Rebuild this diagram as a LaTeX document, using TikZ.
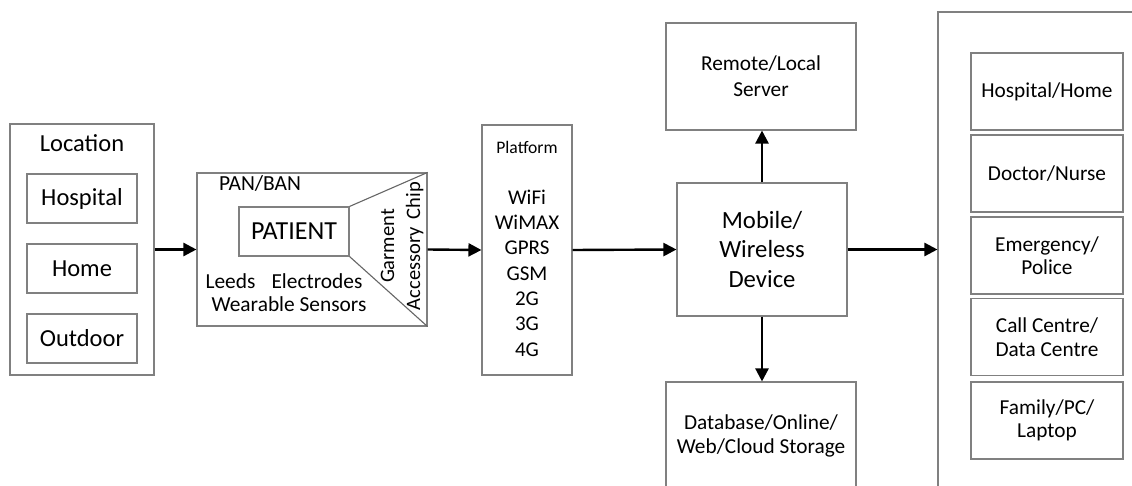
\documentclass[tikz,border=0pt]{standalone}
\usepackage{fontspec}
\setmainfont{Carlito}
\usetikzlibrary{arrows.meta}
\definecolor{boxline}{gray}{0.5}
\newcommand\fsz[2]{\fontsize{#1pt}{#2pt}\selectfont}
\tikzset{
  box/.style={draw=boxline, line width=1.1pt, inner sep=0pt, align=center},
  txt/.style={inner sep=0pt, align=center},
  conn/.style={line width=2.4pt, -{Triangle[length=13pt,width=13pt]}},
  plain/.style={draw=boxline!80!black, line width=1.1pt},
}
\begin{document}
\begin{tikzpicture}[x=1pt,y=-1pt]
\clip (0,0) rectangle (1132,486);
\fill[white] (0,0) rectangle (1132,486);

% location group
\node[box, minimum width=144pt, minimum height=251pt] (loc) at (82,249.5) {};
\node[txt, font=\fsz{24.5}{29}] (loctitle) at (82,143) {Location};
\node[box, minimum width=110pt, minimum height=49pt, font=\fsz{24.5}{29}] (hosp) at (82,198.5) {Hospital};
\node[box, minimum width=110pt, minimum height=49pt, font=\fsz{24.5}{29}] (home) at (82,268.5) {Home};
\node[box, minimum width=110pt, minimum height=49pt, font=\fsz{24.5}{29}] (outd) at (82,338.5) {Outdoor};

% personal / body area network
\node[box, minimum width=230pt, minimum height=153pt] (pan) at (312,249.5) {};
\node[box, minimum width=110pt, minimum height=49pt, font=\fsz{26}{31}] (pat) at (294,231.5) {PATIENT};
\draw[plain] (pat.north east) -- (pan.north east);
\draw[plain] (pat.south east) -- (pan.south east);
\node[txt, font=\fsz{21.5}{26}] (panlbl) at (260,183) {PAN/BAN};
\node[txt, font=\fsz{21.4}{25}] (leeds) at (284,281) {Leeds\hspace{0.75em}Electrodes};
\node[txt, font=\fsz{21.4}{25}] (wear) at (289,304) {Wearable Sensors};
\node[txt, font=\fsz{20.5}{26}, rotate=90] (garm) at (402,246) {Garment\\Accessory\hspace{0.4em}Chip};

% platform
\node[box, minimum width=90pt, minimum height=250pt] (plat) at (527,250) {};
\node[txt, font=\fsz{17.6}{21}] (plattitle) at (527,147) {Platform};
\node[txt, font=\fsz{21}{25.3}] (platlist) at (527,273) {WiFi\\WiMAX\\GPRS\\GSM\\2G\\3G\\4G};

% mobile device and storage
\node[box, minimum width=170pt, minimum height=133pt, font=\fsz{24.7}{29.5}] (mob) at (762,249.5) {Mobile/\\Wireless\\Device};
\node[box, minimum width=190pt, minimum height=107pt, font=\fsz{21.3}{26}] (srv) at (761,76.5) {Remote/Local\\Server};
\node[box, minimum width=190pt, minimum height=124pt] (db) at (761,444) {};
\node[txt, font=\fsz{21.3}{24}] (dbtxt) at (761,436) {Database/Online/\\Web/Cloud Storage};

% receivers
\node[box, minimum width=204pt, minimum height=496pt] (recv) at (1040,260) {};
\tikzset{rbox/.style={box, minimum width=152pt, minimum height=77pt, font=\fsz{21.3}{23.5}}}
\node[rbox] (r1) at (1047,91.5) {Hospital/Home};
\node[rbox] (r2) at (1047,173.5) {Doctor/Nurse};
\node[rbox] (r3) at (1047,255.5) {Emergency/\\Police};
\node[rbox] (r4) at (1047,337) {Call Centre/\\Data Centre};
\node[rbox] (r5) at (1047,420.5) {Family/PC/\\Laptop};

% connectors
\draw[conn] (loc.east) -- (pan.west);
\draw[conn] (pan.east) -- (plat.west);
\draw[conn] (plat.east) -- (mob.west);
\draw[conn] (mob.north) -- (mob.north |- srv.south);
\draw[conn] (mob.south) -- (mob.south |- db.north);
\draw[conn] (mob.east) -- (recv.west |- mob.east);
\end{tikzpicture}
\end{document}
